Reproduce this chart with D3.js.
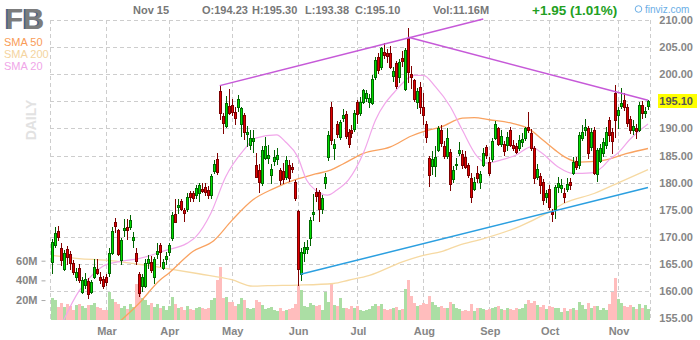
<!DOCTYPE html>
<html>
<head>
<meta charset="utf-8">
<script src="https://cdn.jsdelivr.net/npm/d3@7"></script>
<style>
  body { margin: 0; background: #fff; }
  svg { display: block; font-family: Arial, "Liberation Sans", sans-serif; }
</style>
</head>
<body>
<svg id="chart" width="700" height="340"></svg>
<script>
// ---- trading sessions, FB daily, Feb 4 – Nov 15 2019 ----
const months = ["2019-02","2019-03","2019-04","2019-05","2019-06","2019-07","2019-08","2019-09","2019-10","2019-11"];
const monthNames = ["Feb","Mar","Apr","May","Jun","Jul","Aug","Sep","Oct","Nov"];
const sessionDays = [
  [4,5,6,7,8,11,12,13,14,15,19,20,21,22,25,26,27,28],
  [1,4,5,6,7,8,11,12,13,14,15,18,19,20,21,22,25,26,27,28,29],
  [1,2,3,4,5,8,9,10,11,12,15,16,17,18,22,23,24,25,26,29,30],
  [1,2,3,6,7,8,9,10,13,14,15,16,17,20,21,22,23,24,28,29,30,31],
  [3,4,5,6,7,10,11,12,13,14,17,18,19,20,21,24,25,26,27,28],
  [1,2,3,5,8,9,10,11,12,15,16,17,18,19,22,23,24,25,26,29,30,31],
  [1,2,5,6,7,8,9,12,13,14,15,16,19,20,21,22,23,26,27,28,29,30],
  [3,4,5,6,9,10,11,12,13,16,17,18,19,20,23,24,25,26,27,30],
  [1,2,3,4,7,8,9,10,11,14,15,16,17,18,21,22,23,24,25,28,29,30,31],
  [1,4,5,6,7,8,11,12,13,14,15]
];

const open = [
  165.3,168.5,171.1,167.9,164.0,167.7,166.8,165.1,162.6,164.3,159.9,161.1,161.8,159.9,162.6,164.0,162.6,162.2,
  162.6,163.4,167.1,172.8,171.2,165.7,171.2,171.9,171.9,169.4,167.0,163.2,160.9,161.0,165.1,165.3,162.6,166.8,168.5,164.2,165.9,
  167.2,169.7,174.3,175.5,176.6,174.9,175.2,178.0,178.0,177.7,178.0,178.9,179.2,178.6,177.7,182.2,184.3,196.9,192.3,190.5,194.1,
  194.3,193.0,194.0,190.9,192.5,189.0,186.9,187.7,183.2,182.3,180.0,184.5,184.5,181.4,184.0,184.3,182.3,182.2,181.1,183.2,182.9,180.2,
  174.7,163.2,167.1,167.7,169.7,174.3,178.2,178.2,175.1,180.0,184.8,194.0,186.4,190.8,188.4,192.0,192.7,189.3,189.8,189.9,
  194.9,192.8,194.9,195.7,194.8,194.6,199.5,203.2,201.3,204.1,204.0,204.0,199.7,202.0,199.5,202.9,197.2,206.6,200.0,198.9,194.9,197.7,
  194.0,190.9,184.5,183.1,183.1,186.1,189.8,186.7,184.9,185.7,180.6,183.2,185.5,185.2,184.8,183.2,180.8,178.9,181.7,180.2,183.2,186.5,
  183.9,184.3,188.2,190.0,187.2,187.2,186.9,189.7,186.9,186.7,186.3,187.5,188.2,190.3,189.2,186.3,181.0,181.2,180.2,177.4,
  178.9,174.6,175.2,179.2,179.1,178.1,178.8,180.2,181.7,184.0,183.2,188.2,189.7,190.0,186.6,189.8,181.6,184.0,185.4,186.9,191.5,189.4,196.6,
  192.5,194.1,195.2,193.9,191.7,189.7,190.0,189.7,194.4,192.8,194.23
];
const high = [
  169.6,171.9,172.0,168.9,167.6,168.3,167.4,165.7,164.3,165.0,162.6,163.3,162.4,162.0,166.0,166.0,163.5,162.8,
  163.2,167.9,171.8,173.4,171.5,169.8,173.3,173.3,174.0,170.9,167.9,163.6,163.2,165.9,166.6,166.4,166.3,168.9,168.9,166.0,167.3,
  168.9,174.6,177.0,177.0,177.0,175.3,178.0,178.5,178.5,179.5,180.0,180.0,179.9,179.4,181.6,184.1,185.4,197.9,192.8,196.0,197.2,
  195.5,194.0,196.2,194.0,192.8,190.5,189.8,189.8,185.5,183.5,186.8,188.5,186.9,183.5,186.0,186.4,182.7,183.7,185.0,184.1,183.6,180.5,
  175.0,168.0,169.0,169.5,173.6,177.9,179.0,178.6,177.8,181.8,189.5,194.8,188.0,191.3,191.5,193.6,193.3,189.9,190.6,193.4,
  195.3,195.8,197.3,197.0,196.4,199.9,203.1,204.0,205.0,205.8,204.6,205.2,201.3,202.5,202.8,204.3,204.9,208.5,201.5,199.1,197.4,198.6,
  196.6,191.4,185.0,185.8,186.7,190.4,190.6,187.7,190.0,186.2,183.0,184.6,187.5,186.0,185.9,183.7,181.8,181.0,183.1,182.1,186.4,186.9,
  184.8,188.2,191.4,190.3,189.7,187.6,189.4,190.2,187.9,187.3,188.7,189.1,190.3,193.1,189.9,186.7,183.4,181.8,180.6,178.7,
  179.6,175.2,179.6,181.0,180.6,179.0,180.8,180.8,184.8,184.7,189.3,190.6,191.7,190.4,190.0,190.3,186.4,187.2,188.3,190.3,192.1,190.0,198.1,
  194.0,197.4,196.5,194.5,192.3,191.6,190.9,194.8,195.0,194.0,195.30
];
const low = [
  163.2,167.9,169.3,164.6,163.7,164.9,163.9,162.9,161.9,161.5,159.5,160.3,158.6,159.4,162.3,162.9,161.4,160.4,
  161.0,162.6,166.6,170.8,166.4,164.8,169.9,169.5,171.3,167.9,164.8,158.9,159.8,160.6,164.1,163.4,161.4,165.9,164.4,163.9,164.8,
  166.5,169.3,172.5,174.3,174.7,172.8,174.6,176.4,176.5,177.0,176.5,178.0,177.6,176.9,177.0,181.6,181.5,191.6,188.9,190.0,192.4,
  192.3,190.6,193.0,188.5,187.9,186.5,186.0,185.4,180.8,178.0,179.4,184.2,183.5,179.7,183.0,183.3,179.5,179.7,180.5,180.2,181.7,176.6,
  161.0,161.9,165.3,166.8,168.3,173.0,176.4,172.8,174.3,178.9,184.0,187.0,184.2,188.3,187.8,191.2,188.0,186.3,188.2,189.4,
  190.8,192.3,194.5,194.9,193.7,194.3,199.0,200.0,200.7,202.8,202.0,201.0,198.6,197.3,198.4,201.3,196.9,198.3,197.3,194.8,193.6,192.7,
  190.6,187.3,179.2,181.5,181.0,185.6,186.5,184.3,184.3,178.4,179.9,182.3,184.9,182.6,182.5,180.9,176.2,178.4,180.0,178.8,182.8,184.4,
  181.2,183.9,187.8,186.8,186.6,184.9,185.8,186.6,185.9,185.2,185.8,186.5,187.7,189.1,185.8,179.8,180.5,177.9,175.9,176.2,
  175.0,172.8,173.3,178.0,178.0,176.2,178.2,178.6,181.4,182.3,182.6,187.6,188.6,184.4,185.9,181.5,180.2,183.7,184.7,186.2,187.5,185.2,188.3,
  189.9,193.5,193.2,190.2,189.0,188.8,188.0,189.4,191.8,191.9,193.38
];
const close = [
  169.0,170.8,170.0,165.7,167.1,166.2,165.1,163.5,163.5,162.0,162.0,162.3,159.4,161.6,164.5,163.4,162.0,160.9,
  161.7,167.1,171.1,172.0,166.9,169.4,171.7,171.2,173.1,170.0,165.6,159.7,162.6,165.1,165.9,163.9,166.0,167.4,167.2,165.3,166.5,
  168.5,174.0,172.8,175.9,175.2,174.4,177.4,177.4,177.1,179.0,179.5,178.5,178.3,177.7,181.2,183.5,182.0,192.8,191.0,194.6,192.8,
  193.0,192.0,195.4,193.7,189.4,189.4,188.3,188.2,181.1,180.2,186.0,186.8,185.1,182.5,184.7,185.1,180.5,180.6,184.2,180.8,182.6,177.1,
  164.0,167.2,168.2,168.2,173.1,174.6,177.6,175.1,177.2,181.1,188.8,187.9,187.2,189.0,191.1,192.5,188.6,187.2,189.1,192.8,
  192.6,194.8,197.1,196.5,195.7,199.2,202.7,200.8,204.8,203.5,203.4,201.4,200.6,197.9,202.2,202.4,204.5,200.5,199.4,195.4,196.9,194.0,
  192.5,188.5,181.4,184.3,184.8,190.0,187.4,184.9,188.2,179.8,182.3,183.5,186.0,183.2,182.9,181.4,177.3,180.2,180.8,181.6,185.4,185.1,
  181.8,187.7,190.8,187.2,188.6,185.9,188.4,186.9,186.3,185.7,187.9,188.0,190.0,189.7,186.3,180.8,182.6,179.5,176.8,178.0,
  175.5,174.2,179.2,179.9,179.5,177.3,179.7,179.5,183.9,182.8,188.8,189.4,190.2,185.4,189.4,181.8,186.0,186.3,187.5,189.4,188.8,187.7,191.6,
  193.4,194.6,194.0,191.0,189.8,190.4,189.6,194.3,192.8,193.15,195.10
];
// volume, millions of shares
const volume = [
  22,20,13,17,13,16,14,10,15,16,14,12,15,15,17,13,12,10,
  10,28,21,18,16,12,14,11,16,13,36,28,22,20,15,17,13,16,12,14,10,
  14,23,16,12,13,10,14,11,10,12,13,12,11,12,20,22,40,54,22,23,18,
  18,14,16,22,20,12,11,12,20,18,15,11,12,13,10,9,12,9,10,11,12,16,
  35,30,14,13,17,15,14,15,10,28,18,36,15,14,22,12,12,11,14,12,
  14,10,9,10,11,14,16,14,16,11,10,11,12,13,10,11,31,40,24,17,14,15,
  17,16,24,18,15,13,14,12,12,18,16,12,11,9,10,9,16,9,12,12,11,10,
  11,12,13,14,11,10,12,11,10,12,11,12,16,20,17,19,15,13,15,11,
  14,13,12,12,8,12,9,11,12,10,18,15,11,17,12,14,14,10,12,10,16,28,42,
  21,17,14,13,15,13,11,16,12,15,11.16
];

// moving averages, sampled by session date
const sma20 = [
  ["2019-02-04",149.8],["2019-02-15",160.0],["2019-02-25",163.3],["2019-02-28",164.6],["2019-03-07",165.4],
  ["2019-03-18",166.0],["2019-03-29",167.5],["2019-04-09",168.8],["2019-04-12",170.0],["2019-04-22",174.3],
  ["2019-04-29",181.1],["2019-05-07",186.0],["2019-05-13",188.2],["2019-05-22",188.8],["2019-05-28",187.5],
  ["2019-06-03",184.8],["2019-06-06",180.5],["2019-06-11",178.6],["2019-06-17",177.7],["2019-06-20",178.6],
  ["2019-06-26",180.5],["2019-07-03",185.5],["2019-07-10",191.5],["2019-07-19",197.1],["2019-07-29",199.8],
  ["2019-08-01",199.8],["2019-08-07",197.7],["2019-08-14",194.0],["2019-08-20",189.7],["2019-08-27",184.8],
  ["2019-08-30",183.6],["2019-09-09",184.2],["2019-09-16",185.1],["2019-09-23",186.6],["2019-09-26",185.7],
  ["2019-10-04",182.9],["2019-10-11",181.7],["2019-10-21",181.8],["2019-10-25",183.0],["2019-10-29",184.2],
  ["2019-11-01",185.5],["2019-11-07",188.0],["2019-11-15",190.8]
];
const sma50 = [
  ["2019-03-01",152.2],["2019-03-18",157.7],["2019-03-27",162.0],["2019-04-01",163.3],["2019-04-11",167.3],
  ["2019-04-23",169.3],["2019-05-01",173.0],["2019-05-10",176.8],["2019-05-21",178.9],["2019-05-31",180.5],
  ["2019-06-11",181.6],["2019-06-18",182.3],["2019-06-24",183.4],["2019-07-03",185.4],["2019-07-17",186.6],
  ["2019-07-26",188.6],["2019-08-02",189.6],["2019-08-09",190.3],["2019-08-20",191.9],["2019-08-26",192.0],
  ["2019-09-03",191.6],["2019-09-13",190.9],["2019-09-20",190.0],["2019-09-27",187.8],["2019-10-03",186.0],
  ["2019-10-08",184.8],["2019-10-15",183.8],["2019-10-25",184.1],["2019-11-06",185.4],["2019-11-15",186.3]
];
const sma200 = [
  ["2019-02-04",166.6],["2019-02-15",166.0],["2019-03-01",165.7],["2019-03-14",165.1],["2019-03-29",164.2],
  ["2019-04-15",163.2],["2019-05-01",162.1],["2019-05-10",160.9],["2019-05-17",161.0],["2019-06-03",161.1],
  ["2019-06-19",161.4],["2019-06-26",162.0],["2019-07-08",162.9],["2019-07-23",165.4],["2019-08-01",166.6],
  ["2019-08-09",167.3],["2019-08-19",168.5],["2019-08-28",169.5],["2019-09-17",171.9],["2019-10-01",174.6],
  ["2019-10-08",176.2],["2019-10-22",178.0],["2019-11-04",180.2],["2019-11-15",182.4]
];

// drawn trendlines
const resistanceRising = [["2019-04-25",197.9],["2019-08-29",210.2]];
const resistanceFalling = [["2019-07-25",206.8],["2019-11-15",195.2]];
const supportRising = [["2019-06-04",163.1],["2019-11-15",179.1]];

const priceTicks = [155,160,165,170,175,180,185,190,195,200,205,210];
const volumeTicks = [20,40,60];
const quote = { date: "Nov 15", open: "194.23", high: "195.30", low: "193.38", close: "195.10",
                vol: "11.16M", change: "+1.95 (1.01%)" };

// ---- build ----
const dates = months.flatMap((m, k) => sessionDays[k].map(d => m + "-" + String(d).padStart(2, "0")));
const bars = dates.map((d, i) => ({ d, o: open[i], h: high[i], l: low[i], c: close[i], v: volume[i] }));

const svg = d3.select("#chart");
const plot = { left: 50, right: 650, top: 20, bottom: 320 };

const x = d3.scalePoint().domain(dates).range([52, 648]);
const y = d3.scaleLinear().domain([155, 210]).range([318.2, 20]);
const yv = d3.scaleLinear().domain([0, 60]).range([319.7, 260.7]);
const cx = d => Math.round(x(d));
const snap = v => Math.round(v) + 0.5;

svg.append("defs").append("clipPath").attr("id", "plotClip")
  .append("rect").attr("x", plot.left).attr("y", plot.top - 2)
  .attr("width", plot.right - plot.left + 1).attr("height", plot.bottom - plot.top + 2);

// month starts
const monthStarts = months.map(m => dates.find(d => d.startsWith(m)));

// grid
const grid = svg.append("g").attr("stroke", "#cdcdcd").attr("stroke-dasharray", "4,3")
  .attr("shape-rendering", "crispEdges").attr("fill", "none");
grid.selectAll(".h").data(priceTicks).join("line")
  .attr("x1", plot.left).attr("x2", plot.right + 1)
  .attr("y1", t => snap(y(t))).attr("y2", t => snap(y(t)));
const vLines = [plot.left, ...monthStarts.slice(1).map(d => cx(d)), plot.right];
grid.selectAll(".v").data(vLines).join("line")
  .attr("x1", v => v + 0.5).attr("x2", v => v + 0.5)
  .attr("y1", plot.top).attr("y2", plot.bottom);

// volume
svg.append("g").attr("shape-rendering", "crispEdges")
  .selectAll("rect").data(bars).join("rect")
  .attr("x", b => cx(b.d) - 1).attr("width", 3)
  .attr("y", b => Math.round(yv(b.v)))
  .attr("height", b => plot.bottom - Math.round(yv(b.v)))
  .attr("fill", b => b.c >= b.o ? "#abdea4" : "#ffbdbd");

// moving averages
const maLine = d3.line().x(p => x(p[0])).y(p => y(p[1])).curve(d3.curveMonotoneX);
const maLayer = svg.append("g").attr("clip-path", "url(#plotClip)").attr("fill", "none");
maLayer.append("path").attr("d", maLine(sma200)).attr("stroke", "#f6d9a2").attr("stroke-width", 1.3);
maLayer.append("path").attr("d", maLine(sma50)).attr("stroke", "#f9a260").attr("stroke-width", 1.3);
maLayer.append("path").attr("d", maLine(sma20)).attr("stroke", "#f1a6ea").attr("stroke-width", 1.2);

// candles
const candles = svg.append("g").attr("shape-rendering", "crispEdges");
const up = b => b.c >= b.o;
candles.selectAll("line").data(bars).join("line")
  .attr("x1", b => cx(b.d) + 0.5).attr("x2", b => cx(b.d) + 0.5)
  .attr("y1", b => Math.round(y(b.h))).attr("y2", b => Math.round(y(b.l)))
  .attr("stroke", b => up(b) ? "#006400" : "#800000");
candles.selectAll("rect").data(bars).join("rect")
  .attr("x", b => cx(b.d) - 0.5).attr("width", 2)
  .attr("y", b => snap(y(Math.max(b.o, b.c))))
  .attr("height", b => Math.max(1, Math.round(y(Math.min(b.o, b.c))) - Math.round(y(Math.max(b.o, b.c)))))
  .attr("fill", b => up(b) ? "#00dd00" : "#e00000")
  .attr("stroke", b => up(b) ? "#006a00" : "#7a0000");

// trendlines
const tl = d3.line().x(p => x(p[0])).y(p => y(p[1]));
const trend = svg.append("g").attr("fill", "none");
trend.append("path").attr("d", tl(resistanceRising)).attr("stroke", "#c659d8").attr("stroke-width", 1.5);
trend.append("path").attr("d", tl(resistanceFalling)).attr("stroke", "#c659d8").attr("stroke-width", 1.5);
trend.append("path").attr("d", tl(supportRising)).attr("stroke", "#2b9fe0").attr("stroke-width", 1.5);

// price axis
const labelTicks = priceTicks.filter(t => t !== 195);
const pa = svg.append("g").attr("transform", "translate(693,0)")
  .call(d3.axisRight(y).tickValues(labelTicks).tickFormat(d3.format(".2f")).tickSize(0));
pa.select(".domain").remove();
pa.selectAll("text").attr("x", 0).attr("text-anchor", "end")
  .attr("fill", "#868686").attr("font-size", 11).attr("font-weight", "bold")
  .attr("font-family", "Arial, 'Liberation Sans', sans-serif");

// last price tag
const lastY = y(+quote.close);
svg.append("rect").attr("x", 658).attr("y", Math.round(lastY) - 7).attr("width", 39).attr("height", 14).attr("fill", "#ffff00");
svg.append("text").attr("x", 693).attr("y", lastY).attr("dy", "0.36em").attr("text-anchor", "end")
  .attr("font-size", 11).attr("font-weight", "bold").attr("fill", "#555").text(quote.close);

// month axis
const ma = svg.append("g").attr("transform", `translate(0.5,${plot.bottom})`)
  .call(d3.axisBottom(x).tickValues(monthStarts.slice(1))
    .tickFormat(d => monthNames[months.indexOf(d.slice(0, 7))]).tickSize(0).tickPadding(7));
ma.select(".domain").remove();
ma.selectAll("text").attr("fill", "#868686").attr("font-size", 11).attr("font-weight", "bold")
  .attr("font-family", "Arial, 'Liberation Sans', sans-serif");

// volume axis
const va = svg.append("g").attr("transform", "translate(45.5,0)")
  .call(d3.axisLeft(yv).tickValues(volumeTicks).tickFormat(d => d + "M").tickSize(4).tickPadding(4));
va.select(".domain").remove();
va.selectAll("line").attr("stroke", "#aaa");
va.selectAll("text").attr("fill", "#868686").attr("font-size", 11).attr("font-weight", "bold")
  .attr("font-family", "Arial, 'Liberation Sans', sans-serif");

// ticker, legend, header
svg.append("text").attr("x", 4).attr("y", 29).attr("font-size", 29).attr("font-weight", "bold")
  .attr("fill", "#3f5f93").text("FB");
svg.append("text").attr("x", 5.5).attr("y", 29).attr("font-size", 29).attr("font-weight", "bold")
  .attr("fill", "#7c7c7c").text("FB");

const legend = [["SMA 50", "#f99c58"], ["SMA 200", "#f4d4a0"], ["SMA 20", "#f0a6e8"]];
svg.append("g").selectAll("text").data(legend).join("text")
  .attr("x", 4).attr("y", (d, i) => 46 + i * 12).attr("font-size", 11)
  .attr("fill", d => d[1]).text(d => d[0]);

svg.append("text").attr("transform", "translate(36,120) rotate(-90)").attr("text-anchor", "middle")
  .attr("font-size", 14).attr("font-weight", "bold").attr("fill", "#e2e2e2").text("DAILY");

const head = svg.append("g").attr("font-size", 11).attr("font-weight", "bold").attr("fill", "#777");
head.append("text").attr("x", 133).attr("y", 14).text(quote.date);
head.append("text").attr("x", 202).attr("y", 14).text("O:" + quote.open);
head.append("text").attr("x", 252).attr("y", 14).text("H:" + quote.high);
head.append("text").attr("x", 305).attr("y", 14).text("L:" + quote.low);
head.append("text").attr("x", 355).attr("y", 14).text("C:" + quote.close);
head.append("text").attr("x", 433).attr("y", 14).text("Vol:" + quote.vol);
svg.append("text").attr("x", 532).attr("y", 15).attr("font-size", 13.5).attr("font-weight", "bold")
  .attr("fill", "#22a022").text(quote.change);

svg.append("circle").attr("cx", 638.5).attr("cy", 9).attr("r", 3.3).attr("fill", "none")
  .attr("stroke", "#6aaee6").attr("stroke-width", 1);
svg.append("text").attr("x", 645).attr("y", 13).attr("font-size", 10).attr("fill", "#6aaee6").text("finviz.com");
</script>
</body>
</html>
